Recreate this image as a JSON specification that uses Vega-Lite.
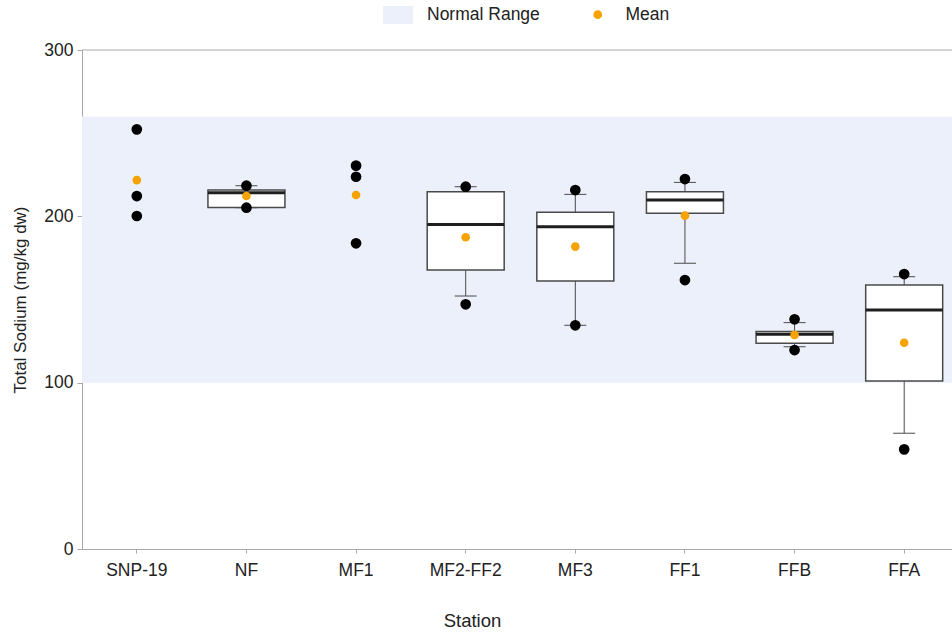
{
  "$schema": "https://vega.github.io/schema/vega-lite/v6.json",
  "width": 870,
  "height": 499,
  "autosize": {"type": "none"},
  "padding": {"left": 82, "top": 50, "right": 0, "bottom": 85},
  "background": "white",
  "config": {
    "view": {"stroke": null},
    "font": "Liberation Sans",
    "axis": {
      "domainColor": "#a8a8a8",
      "tickColor": "#a8a8a8",
      "labelColor": "#222222",
      "titleColor": "#222222",
      "labelFontSize": 17.5,
      "titleFontSize": 17,
      "titleFontWeight": "normal",
      "grid": false
    },
    "legend": {"labelFontSize": 17.5, "labelColor": "#222222"}
  },
  "datasets": {
    "stats": [
      {"station": "NF", "lo": 205.2, "q1": 205.3, "median": 214.2, "q3": 215.8, "hi": 218.4},
      {"station": "MF2-FF2", "lo": 152.1, "q1": 167.7, "median": 195.1, "q3": 214.8, "hi": 217.8},
      {"station": "MF3", "lo": 134.5, "q1": 161.1, "median": 193.8, "q3": 202.4, "hi": 213.2},
      {"station": "FF1", "lo": 171.8, "q1": 201.8, "median": 209.8, "q3": 214.8, "hi": 220.4},
      {"station": "FFB", "lo": 121.6, "q1": 123.7, "median": 129.1, "q3": 130.7, "hi": 136.1},
      {"station": "FFA", "lo": 69.6, "q1": 101.0, "median": 143.7, "q3": 158.7, "hi": 163.7}
    ],
    "points": [
      {"station": "SNP-19", "value": 252.3},
      {"station": "SNP-19", "value": 212.2},
      {"station": "SNP-19", "value": 200.2},
      {"station": "NF", "value": 218.4},
      {"station": "NF", "value": 205.2},
      {"station": "MF1", "value": 230.5},
      {"station": "MF1", "value": 223.8},
      {"station": "MF1", "value": 183.8},
      {"station": "MF2-FF2", "value": 217.8},
      {"station": "MF2-FF2", "value": 147.1},
      {"station": "MF3", "value": 215.8},
      {"station": "MF3", "value": 134.5},
      {"station": "FF1", "value": 222.4},
      {"station": "FF1", "value": 161.7},
      {"station": "FFB", "value": 138.1},
      {"station": "FFB", "value": 119.6},
      {"station": "FFA", "value": 165.3},
      {"station": "FFA", "value": 59.9}
    ],
    "means": [
      {"station": "SNP-19", "mean": 221.8, "label": "Mean"},
      {"station": "NF", "mean": 212.2, "label": "Mean"},
      {"station": "MF1", "mean": 212.8, "label": "Mean"},
      {"station": "MF2-FF2", "mean": 187.4, "label": "Mean"},
      {"station": "MF3", "mean": 181.8, "label": "Mean"},
      {"station": "FF1", "mean": 200.4, "label": "Mean"},
      {"station": "FFB", "mean": 128.7, "label": "Mean"},
      {"station": "FFA", "mean": 124.0, "label": "Mean"}
    ]
  },
  "layer": [
    {
      "data": {"values": [{"lower": 100, "upper": 260, "label": "Normal Range"}]},
      "mark": {"type": "rect", "opacity": 1},
      "encoding": {
        "y": {
          "field": "lower", "type": "quantitative",
          "title": "Total Sodium (mg/kg dw)",
          "scale": {"domain": [0, 300], "nice": false},
          "axis": {"values": [0, 100, 200, 300], "tickSize": 5, "labelPadding": 4, "titlePadding": 14}
        },
        "y2": {"field": "upper"},
        "color": {
          "field": "label", "type": "nominal", "title": null,
          "scale": {"domain": ["Normal Range", "Mean"], "range": ["#ecf0fa", "#f5a300"]},
          "legend": {
            "orient": "none", "legendX": 306, "legendY": -45, "direction": "horizontal",
            "title": null, "padding": 0, "labelOffset": 19, "columnPadding": 49,
            "symbolStrokeWidth": 0, "symbolOpacity": 1
          }
        }
      }
    },
    {
      "data": {"values": [{"top": 300}]},
      "mark": {"type": "rule", "color": "#a8a8a8", "strokeWidth": 1},
      "encoding": {"y": {"field": "top", "type": "quantitative", "title": "Total Sodium (mg/kg dw)"}}
    },
    {
      "data": {"name": "stats"},
      "mark": {"type": "rule", "color": "#4a4a4a", "strokeWidth": 1, "opacity": 1},
      "encoding": {
        "x": {
          "field": "station", "type": "nominal", "title": "Station",
          "scale": {"type": "band", "domain": ["SNP-19", "NF", "MF1", "MF2-FF2", "MF3", "FF1", "FFB", "FFA"], "range": [0, 877], "paddingInner": 0, "paddingOuter": 0},
          "axis": {"labelAngle": 0, "tickSize": 4, "labelPadding": 8, "titlePadding": 33, "titleFontSize": 18.5, "titleX": 390, "titleAlign": "center"}
        },
        "y": {"field": "lo", "type": "quantitative", "title": "Total Sodium (mg/kg dw)"},
        "y2": {"field": "hi"}
      }
    },
    {
      "data": {"name": "stats"},
      "mark": {"type": "tick", "color": "#4a4a4a", "size": 22, "thickness": 1, "opacity": 1},
      "encoding": {
        "x": {"field": "station", "type": "nominal", "title": "Station"},
        "y": {"field": "lo", "type": "quantitative", "title": "Total Sodium (mg/kg dw)"}
      }
    },
    {
      "data": {"name": "stats"},
      "mark": {"type": "tick", "color": "#4a4a4a", "size": 22, "thickness": 1, "opacity": 1},
      "encoding": {
        "x": {"field": "station", "type": "nominal", "title": "Station"},
        "y": {"field": "hi", "type": "quantitative", "title": "Total Sodium (mg/kg dw)"}
      }
    },
    {
      "data": {"name": "stats"},
      "mark": {"type": "bar", "width": 77, "fill": "white", "stroke": "#4a4a4a", "strokeWidth": 1.5, "opacity": 1},
      "encoding": {
        "x": {"field": "station", "type": "nominal", "title": "Station"},
        "y": {"field": "q1", "type": "quantitative", "title": "Total Sodium (mg/kg dw)"},
        "y2": {"field": "q3"}
      }
    },
    {
      "data": {"name": "stats"},
      "mark": {"type": "tick", "color": "#1e1e1e", "size": 77, "thickness": 3, "opacity": 1},
      "encoding": {
        "x": {"field": "station", "type": "nominal", "title": "Station"},
        "y": {"field": "median", "type": "quantitative", "title": "Total Sodium (mg/kg dw)"}
      }
    },
    {
      "data": {"name": "points"},
      "mark": {"type": "point", "shape": "circle", "filled": true, "color": "black", "opacity": 1, "size": 115},
      "encoding": {
        "x": {"field": "station", "type": "nominal", "title": "Station"},
        "y": {"field": "value", "type": "quantitative", "title": "Total Sodium (mg/kg dw)"}
      }
    },
    {
      "data": {"name": "means"},
      "mark": {"type": "point", "filled": true, "opacity": 1},
      "encoding": {
        "x": {"field": "station", "type": "nominal", "title": "Station"},
        "y": {"field": "mean", "type": "quantitative", "title": "Total Sodium (mg/kg dw)"},
        "color": {"field": "label", "type": "nominal", "title": null},
        "shape": {
          "field": "label", "type": "nominal", "title": null,
          "scale": {"domain": ["Normal Range", "Mean"], "range": ["M-1.5,-0.9H1.5V0.9H-1.5Z", "circle"]}
        },
        "size": {
          "field": "label", "type": "nominal", "title": null,
          "scale": {"domain": ["Normal Range", "Mean"], "range": [400, 75]}
        }
      }
    }
  ]
}
